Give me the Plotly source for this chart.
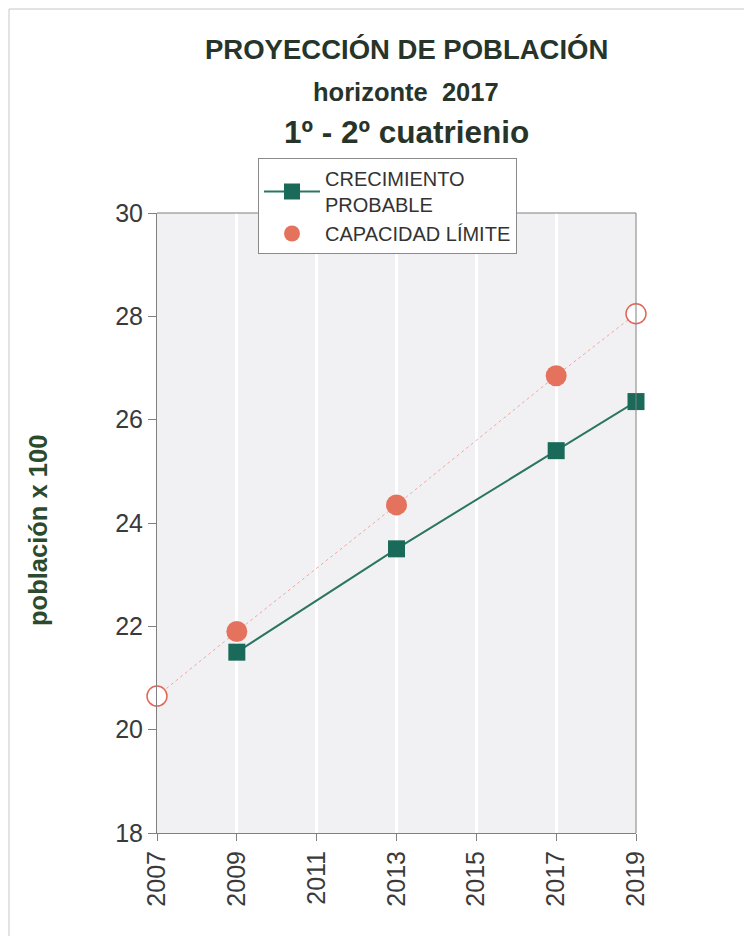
import plotly.graph_objects as go

years_prob = [2009, 2013, 2017, 2019]
crecimiento_probable = [21.5, 23.5, 25.4, 26.35]

years_cap = [2009, 2013, 2017]
capacidad_limite = [21.9, 24.35, 26.85]

years_cap_ends = [2007, 2019]
capacidad_ends = [20.65, 28.05]

years_trend = [2007, 2009, 2013, 2017, 2019]
trend_vals = [20.65, 21.9, 24.35, 26.85, 28.05]

tick_years = [2007, 2009, 2011, 2013, 2015, 2017, 2019]
tick_labels = [str(y) for y in tick_years]

FONT = "Liberation Sans, Arial, sans-serif"
TITLE_COLOR = "#27342a"

fig = go.Figure()

fig.add_trace(go.Scatter(
    x=years_trend, y=trend_vals, mode="lines",
    line=dict(color="#f2a7a0", width=1, dash="dot"),
    showlegend=False, hoverinfo="skip", cliponaxis=False))

fig.add_trace(go.Scatter(
    x=years_prob, y=crecimiento_probable, mode="lines+markers",
    name="CRECIMIENTO<br>PROBABLE",
    line=dict(color="#2b7563", width=2),
    marker=dict(symbol="square", size=17, color="#1a6a5a"),
    cliponaxis=False))

fig.add_trace(go.Scatter(
    x=years_cap, y=capacidad_limite, mode="markers",
    name="CAPACIDAD LÍMITE",
    marker=dict(symbol="circle", size=21, color="#e5725c"),
    cliponaxis=False))

fig.add_trace(go.Scatter(
    x=years_cap_ends, y=capacidad_ends, mode="markers",
    marker=dict(symbol="circle", size=20, color="white",
                line=dict(color="#e0675a", width=1.5)),
    showlegend=False, cliponaxis=False))

# plot area in page (screenshot) pixels; the page body adds an 8px offset
OFF = 8
L, R, T, B = 157, 636, 213, 833
W, H = 744, 928

def px(xp):
    return (xp - L) / (R - L)

def py(yp):
    return (B - yp) / (B - T)

annotations = [
    dict(text="<b>PROYECCIÓN DE POBLACIÓN</b>", x=px(406), y=py(50),
         font=dict(size=27.5, color=TITLE_COLOR, family=FONT)),
    dict(text="<b>horizonte  2017</b>", x=px(406), y=py(92),
         font=dict(size=25.5, color=TITLE_COLOR, family=FONT)),
    dict(text="<b>1º - 2º cuatrienio</b>", x=px(406), y=py(132),
         font=dict(size=31.5, color=TITLE_COLOR, family=FONT)),
    dict(text="<b>población x 100</b>", x=px(38), y=py(531), textangle=-90,
         font=dict(size=25.5, color="#2c4a2e", family=FONT)),
]
for a in annotations:
    a.update(xref="paper", yref="paper", showarrow=False,
             xanchor="center", yanchor="middle")

shapes = [
    dict(type="line", xref="paper", yref="paper",
         x0=px(9), x1=px(752), y0=py(9), y1=py(9),
         line=dict(color="#c8c8c8", width=1)),
    dict(type="line", xref="paper", yref="paper",
         x0=px(9), x1=px(9), y0=py(9), y1=py(936),
         line=dict(color="#c8c8c8", width=1)),
    dict(type="line", xref="paper", yref="paper", x0=1, x1=1, y0=0, y1=1,
         line=dict(color="#808080", width=1)),
    dict(type="line", xref="paper", yref="paper", x0=0, x1=1, y0=1, y1=1,
         line=dict(color="#808080", width=1)),
]

fig.update_layout(
    width=W, height=H,
    margin=dict(l=L - OFF, r=W - (R - OFF), t=T - OFF, b=H - (B - OFF)),
    paper_bgcolor="white",
    plot_bgcolor="#f1f1f3",
    font=dict(family=FONT, color="#333333"),
    annotations=annotations,
    shapes=shapes,
    legend=dict(
        x=px(258), y=py(158), xanchor="left", yanchor="top",
        bgcolor="white", bordercolor="#8a8a8a", borderwidth=1,
        font=dict(size=20, color="#333333", family=FONT),
        tracegroupgap=1, itemwidth=56,
    ),
    xaxis=dict(
        range=[2007, 2019], tickmode="array", tickvals=tick_years,
        ticktext=tick_labels, tickangle=-90,
        tickfont=dict(size=25, color="#3a3a3a"),
        showgrid=True, gridcolor="white", gridwidth=3,
        showline=True, linecolor="#808080", linewidth=1,
        ticks="outside", ticklen=7, tickcolor="#808080",
        zeroline=False, mirror=False,
    ),
    yaxis=dict(
        range=[18, 30], dtick=2,
        tickfont=dict(size=25, color="#3a3a3a"),
        showgrid=False,
        showline=True, linecolor="#808080", linewidth=1,
        ticks="outside", ticklen=8, tickcolor="#808080",
        zeroline=False,
    ),
)

fig.write_html("out.html")
